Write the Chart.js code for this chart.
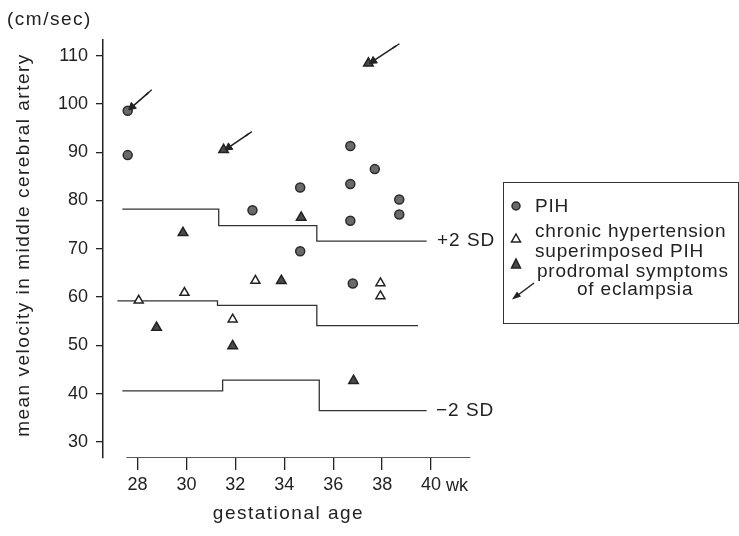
<!DOCTYPE html>
<html>
<head>
<meta charset="utf-8">
<script src="https://cdn.jsdelivr.net/npm/chart.js@4.4.0/dist/chart.umd.min.js"></script>
<style>
  html, body { margin: 0; padding: 0; background: #fff; }
  #wrap { position: relative; width: 739px; height: 536px; }
  #legend {
    position: absolute; left: 503px; top: 182px; width: 234px; height: 140px;
    border: 1.5px solid #333; font-family: "Liberation Sans", Arial, sans-serif;
    font-size: 19px; color: #222; letter-spacing: 0.8px;
  }
  #legend span { position: absolute; white-space: nowrap; line-height: 20px; }
  #legend svg { position: absolute; left: 0; top: 0; }
</style>
</head>
<body>
<div id="wrap">
  <canvas id="grafico" width="739" height="536"></canvas>
  <div id="legend">
    <svg width="40" height="141">
      <circle cx="12" cy="23" r="4" fill="#6a6a6a" stroke="#2a2a2a" stroke-width="1.5"/>
      <polygon points="12,51 16.5,59 7.5,59" fill="#fff" stroke="#222" stroke-width="1.5"/>
      <polygon points="12,76 16.5,85 7.5,85" fill="#4a4a4a" stroke="#222" stroke-width="1.5"/>
      <line x1="30" y1="100" x2="10" y2="115" stroke="#222" stroke-width="1.5"/>
      <polygon points="8,116.5 13,108.5 17,113.5" fill="#222"/>
    </svg>
    <span style="left:31px; top:13px">PIH</span>
    <span style="left:31px; top:38px">chronic hypertension</span>
    <span style="left:31px; top:58px">superimposed PIH</span>
    <span style="left:33px; top:78px">prodromal symptoms</span>
    <span style="left:73px; top:96px">of eclampsia</span>
  </div>
</div>
<script>
// escala dos eixos
const xTicks = [28, 30, 32, 34, 36, 38, 40];
const yTicks = [30, 40, 50, 60, 70, 80, 90, 100, 110];

// PIH (círculos)
const pihX = [27.6, 27.6, 32.7, 34.65, 34.65, 36.7, 36.7, 36.7, 36.8, 37.7, 38.7, 38.7];
const pihY = [98.6, 89.4, 78.0, 82.7, 69.5, 91.3, 83.4, 75.8, 62.8, 86.5, 80.2, 77.1];

// hipertensão crônica (triângulos abertos)
const chronicX = [28.05, 29.92, 31.89, 32.82, 37.93, 37.93];
const chronicY = [59.3, 60.9, 55.4, 63.4, 62.9, 60.2];

// PIH sobreposta (triângulos cheios)
const superX = [31.52, 29.86, 37.44, 34.69, 28.78, 31.89, 33.88, 36.83];
const superY = [90.5, 73.3, 108.4, 76.5, 53.7, 49.9, 63.4, 42.7];

// faixas de referência (degraus)
const plus2sdX = [27.38, 31.32, 35.33, 39.82];
const plus2sdY = [78.2, 74.8, 71.6, 71.6];
const meanX = [27.18, 31.27, 35.33, 39.47];
const meanY = [59.2, 58.3, 54.1, 54.1];
const minus2sdX = [27.38, 31.48, 35.43, 39.82];
const minus2sdY = [40.6, 42.8, 36.5, 36.5];

// setas (sintomas prodrômicos): cauda -> ponta
const arrowTailX = [28.46, 32.54, 38.57];
const arrowTailY = [102.4, 93.8, 112.0];
const arrowHeadX = [27.78, 31.73, 37.64];
const arrowHeadY = [99.4, 91.0, 108.9];

// linha do eixo x
const baseX = [27.55, 41.6];

const Y_MIN = 26.69, Y_MAX = 113.23;
const X_MIN = 26.59, X_MAX = 42.0;

const pts = (xs, ys) => xs.map((x, i) => ({ x, y: ys[i] }));
const ink = "#222";
const sans = "'Liberation Sans', Arial, sans-serif";

function arrowAngle(c) {
  const ch = c.chart;
  const d = ch.data.datasets[c.datasetIndex].data;
  const sx = ch.scales.x, sy = ch.scales.y;
  const dx = sx.getPixelForValue(d[1].x) - sx.getPixelForValue(d[0].x);
  const dy = sy.getPixelForValue(d[1].y) - sy.getPixelForValue(d[0].y);
  return Math.atan2(dx, -dy) * 180 / Math.PI;
}

const arrowSets = arrowTailX.map((_, i) => ({
  data: [{ x: arrowTailX[i], y: arrowTailY[i] }, { x: arrowHeadX[i], y: arrowHeadY[i] }],
  showLine: true,
  borderColor: ink,
  borderWidth: 1.6,
  pointStyle: ["line", "triangle"],
  pointRadius: [4, 4.5],
  pointBackgroundColor: ink,
  pointBorderColor: ink,
  pointBorderWidth: [1.3, 1],
  rotation: c => arrowAngle(c) + (c.dataIndex === 0 ? 90 : 0)
}));

function stepLine(xs, ys) {
  return {
    data: pts(xs, ys),
    showLine: true,
    stepped: true,
    borderColor: "#333",
    borderWidth: 1.3,
    pointRadius: 0
  };
}

// textos soltos: títulos, +2 SD, -2 SD, unidade, "wk"
const notes = {
  id: "notes",
  afterDraw(chart) {
    const { ctx, chartArea: a, scales: { x, y } } = chart;
    ctx.save();
    ctx.fillStyle = ink;
    ctx.textBaseline = "middle";
    ctx.letterSpacing = "1px";
    ctx.textAlign = "left";
    ctx.font = "19px " + sans;
    ctx.fillText("+2 SD", x.getPixelForValue(40.24), y.getPixelForValue(71.6));
    ctx.fillText("\u22122 SD", x.getPixelForValue(40.2), y.getPixelForValue(36.5));
    ctx.letterSpacing = "1.5px";
    ctx.fillText("(cm/sec)", 7, 20);
    ctx.letterSpacing = "0px";
    ctx.font = "18px " + sans;
    ctx.fillText("wk", x.getPixelForValue(40) + 15, 486);

    // títulos dos eixos
    ctx.font = "19px " + sans;
    ctx.letterSpacing = "1.5px";
    ctx.textAlign = "center";
    ctx.fillText("gestational age", (a.left + a.right) / 2 - 3, 514);
    ctx.translate(24, (a.top + a.bottom) / 2 - 4);
    ctx.rotate(-Math.PI / 2);
    ctx.fillText("mean velocity in middle cerebral artery", 0, 0);
    ctx.restore();
  }
};

new Chart(document.getElementById("grafico").getContext("2d"), {
  type: "scatter",
  data: {
    datasets: [
      ...arrowSets,
      {
        data: pts(pihX, pihY),
        pointStyle: "circle",
        pointRadius: 4.5,
        pointBackgroundColor: "#6a6a6a",
        pointBorderColor: "#2a2a2a",
        pointBorderWidth: 1.5
      },
      {
        data: pts(superX, superY),
        pointStyle: "triangle",
        pointRadius: 5.5,
        pointBackgroundColor: "#4a4a4a",
        pointBorderColor: ink,
        pointBorderWidth: 1.5
      },
      {
        data: pts(chronicX, chronicY),
        pointStyle: "triangle",
        pointRadius: 5.2,
        pointBackgroundColor: "#fff",
        pointBorderColor: ink,
        pointBorderWidth: 1.5
      },
      stepLine(plus2sdX, plus2sdY),
      stepLine(meanX, meanY),
      stepLine(minus2sdX, minus2sdY),
      {
        data: baseX.map(x => ({ x, y: Y_MIN })),
        showLine: true,
        borderColor: ink,
        borderWidth: 1.5,
        pointRadius: 0
      }
    ]
  },
  options: {
    responsive: false,
    animation: false,
    layout: { padding: { left: 0, right: 259, top: 40, bottom: 0 } },
    plugins: {
      legend: { display: false },
      tooltip: { enabled: false }
    },
    scales: {
      x: {
        type: "linear",
        min: X_MIN,
        max: X_MAX,
        afterBuildTicks: s => { s.ticks = xTicks.map(v => ({ value: v })); },
        afterFit: s => { s.height = 536 - 458; },
        border: { display: false },
        grid: { drawOnChartArea: false, drawTicks: true, tickLength: 12, color: ink, lineWidth: 1.3 },
        ticks: { color: ink, padding: 4, font: { family: sans, size: 18 }, maxRotation: 0 }
      },
      y: {
        type: "linear",
        min: Y_MIN,
        max: Y_MAX,
        afterBuildTicks: s => { s.ticks = yTicks.map(v => ({ value: v })); },
        afterFit: s => { s.width = 103; },
        border: { display: true, color: ink, width: 1.5 },
        grid: { drawOnChartArea: false, drawTicks: true, tickLength: 7, color: ink, lineWidth: 1.3 },
        ticks: { color: ink, padding: 8, font: { family: sans, size: 18 } }
      }
    }
  },
  plugins: [notes]
});
</script>
</body>
</html>
